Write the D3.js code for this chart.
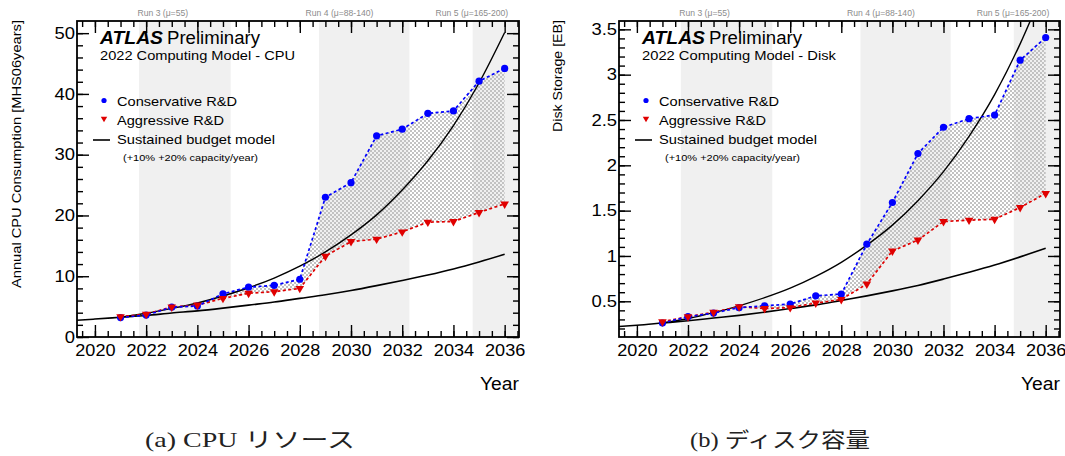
<!DOCTYPE html>
<html>
<head>
<meta charset="utf-8">
<script src="https://cdn.jsdelivr.net/npm/d3@7"></script>
<style>
  body { margin: 0; background: #fff; }
  svg { display: block; }
  text { font-family: "Liberation Sans", Arial, Helvetica, sans-serif; }
</style>
</head>
<body>
<svg id="chart" width="1065" height="456"></svg>
<script>
// ---- data ----
const years = [2021, 2022, 2023, 2024, 2025, 2026, 2027, 2028, 2029, 2030, 2031, 2032, 2033, 2034, 2035, 2036];

const cpuConservative = [3.2, 3.6, 4.9, 5.1, 7.1, 8.2, 8.5, 9.5, 23.0, 25.4, 33.1, 34.2, 36.8, 37.2, 42.1, 44.2];
const cpuAggressive   = [3.35, 3.75, 4.95, 5.25, 6.35, 7.2, 7.45, 8.0, 13.3, 15.7, 16.1, 17.3, 18.9, 19.0, 20.5, 21.9];

const diskConservative = [0.26, 0.33, 0.37, 0.43, 0.45, 0.47, 0.56, 0.58, 1.13, 1.59, 2.13, 2.42, 2.515, 2.555, 3.16, 3.41];
const diskAggressive   = [0.275, 0.33, 0.38, 0.44, 0.42, 0.43, 0.48, 0.52, 0.69, 1.055, 1.175, 1.38, 1.395, 1.405, 1.535, 1.69];

// sustained budget model, flat-budget growth of +10%/year and +20%/year
const budgetYearsLow  = [2019.3, 2020, 2021, 2022, 2023, 2024, 2025, 2026, 2027, 2028, 2029, 2030, 2031, 2032, 2033, 2034, 2035, 2036];
const cpuBudgetLow    = [2.75, 2.95, 3.25, 3.55, 3.95, 4.3, 4.75, 5.25, 5.75, 6.35, 6.95, 7.65, 8.45, 9.3, 10.2, 11.2, 12.35, 13.6];
const diskBudgetLow   = [0.222, 0.235, 0.26, 0.285, 0.315, 0.345, 0.38, 0.42, 0.46, 0.51, 0.56, 0.615, 0.675, 0.745, 0.82, 0.9, 0.99, 1.085];
const budgetYearsHigh = years;
const cpuBudgetHigh   = [3.25, 3.9, 4.7, 5.6, 6.75, 8.1, 9.7, 11.65, 14.0, 16.8, 20.1, 24.2, 29.0, 34.8, 41.8, 50.1];
const diskBudgetHigh  = [0.26, 0.31, 0.375, 0.45, 0.54, 0.645, 0.775, 0.93, 1.12, 1.34, 1.61, 1.93, 2.32, 2.78, 3.34, 4.0];

// LHC run periods
const runLabels     = ["Run 3 (\u03bc=55)", "Run 4 (\u03bc=88-140)", "Run 5 (\u03bc=165-200)"];
const runStarts     = [2021.72, 2028.75, 2034.75];
const runEnds       = [2025.3, 2032.28, 2036.6];
const runLabelYears = [2022.65, 2029.55, 2034.72];

const yearRange   = [2019.3, 2036.56];
const yearTicks   = [2020, 2022, 2024, 2026, 2028, 2030, 2032, 2034, 2036];
const cpuRange    = [0, 52];
const cpuTicks    = [0, 10, 20, 30, 40, 50];
const diskRange   = [0.106, 3.592];
const diskTicks   = [0.5, 1, 1.5, 2, 2.5, 3, 3.5];

const legendLabels = ["Conservative R&D", "Aggressive R&D", "Sustained budget model"];
const budgetNote   = "(+10% +20% capacity/year)";
const cpuTitle     = "2022 Computing Model - CPU";
const diskTitle    = "2022 Computing Model - Disk";
const cpuYLabel    = "Annual CPU Consumption  [MHS06years]";
const diskYLabel   = "Disk Storage [EB]";
const xLabel       = "Year";
const captions     = ["(a) CPU \u30ea\u30bd\u30fc\u30b9", "(b) \u30c7\u30a3\u30b9\u30af\u5bb9\u91cf"];

// ---- drawing ----
const svg = d3.select("#chart");
const BLUE = "#0000ff", RED = "#e00000";

// checkerboard hatch used between the two R&D scenarios
const defs = svg.append("defs");
const pat = defs.append("pattern").attr("id", "checker")
  .attr("patternUnits", "userSpaceOnUse").attr("width", 4).attr("height", 4);
pat.append("rect").attr("x", 0).attr("y", 0).attr("width", 2).attr("height", 2).attr("fill", "#c2c2c2");
pat.append("rect").attr("x", 2).attr("y", 2).attr("width", 2).attr("height", 2).attr("fill", "#c2c2c2");

function fitText(sel, w) {
  sel.attr("textLength", w).attr("lengthAdjust", "spacingAndGlyphs");
}
function widen(sel, k) {
  sel.each(function () {
    const w = this.getComputedTextLength();
    d3.select(this).attr("textLength", w * k).attr("lengthAdjust", "spacingAndGlyphs");
  });
}

const panels = [
  { id: "cpu", x0: 77, x1: 519, yRange: cpuRange, yTicks: cpuTicks, yMinor: 2,
    cons: cpuConservative, aggr: cpuAggressive, low: cpuBudgetLow, high: cpuBudgetHigh,
    title: cpuTitle, yLabel: cpuYLabel, yLabelX: 21, yLabelLen: 268, titleLen: 195,
    caption: captions[0], captionX: 250, captionLen: 210 },
  { id: "disk", x0: 619, x1: 1060, yRange: diskRange, yTicks: diskTicks, yMinor: 0.1,
    cons: diskConservative, aggr: diskAggressive, low: diskBudgetLow, high: diskBudgetHigh,
    title: diskTitle, yLabel: diskYLabel, yLabelX: 562, yLabelLen: 112, titleLen: 194,
    caption: captions[1], captionX: 780, captionLen: 180 }
];

const Y0 = 337, Y1 = 21;

panels.forEach(p => {
  const x = d3.scaleLinear().domain(yearRange).range([p.x0, p.x1]);
  const y = d3.scaleLinear().domain(p.yRange).range([Y0, Y1]);
  const g = svg.append("g").attr("class", p.id);

  const clipId = "clip-" + p.id;
  defs.append("clipPath").attr("id", clipId).append("rect")
    .attr("x", p.x0).attr("y", Y1).attr("width", p.x1 - p.x0).attr("height", Y0 - Y1);

  const plot = g.append("g").attr("clip-path", `url(#${clipId})`);

  // run period bands
  plot.selectAll("rect.band").data(runStarts).join("rect").attr("class", "band")
    .attr("x", (d) => x(d)).attr("y", Y1)
    .attr("width", (d, i) => x(runEnds[i]) - x(d)).attr("height", Y0 - Y1)
    .attr("fill", "#f0f0f0");

  // run labels above the frame
  g.selectAll("text.run").data(runLabels).join("text").attr("class", "run")
    .attr("x", (d, i) => x(runLabelYears[i])).attr("y", 16)
    .attr("text-anchor", "middle").attr("font-size", 8.6).attr("fill", "#8c8c8c")
    .text(d => d);

  // hatched band between scenarios
  const ptsC = years.map((yr, i) => [x(yr), y(p.cons[i])]);
  const ptsA = years.map((yr, i) => [x(yr), y(p.aggr[i])]);
  plot.append("path")
    .attr("d", d3.line()(ptsC.concat(ptsA.slice().reverse())) + "Z")
    .attr("fill", "url(#checker)").attr("stroke", "none");

  // sustained budget curves
  const curve = d3.line().x(d => x(d[0])).y(d => y(d[1])).curve(d3.curveMonotoneX);
  plot.append("path").attr("d", curve(budgetYearsLow.map((yr, i) => [yr, p.low[i]])))
    .attr("fill", "none").attr("stroke", "#000").attr("stroke-width", 1.6);
  plot.append("path").attr("d", curve(budgetYearsHigh.map((yr, i) => [yr, p.high[i]])))
    .attr("fill", "none").attr("stroke", "#000").attr("stroke-width", 1.4);

  // scenario lines
  const lin = d3.line();
  plot.append("path").attr("d", lin(ptsA)).attr("fill", "none")
    .attr("stroke", RED).attr("stroke-width", 1.7).attr("stroke-dasharray", "3,2.5");
  plot.append("path").attr("d", lin(ptsC)).attr("fill", "none")
    .attr("stroke", BLUE).attr("stroke-width", 1.7).attr("stroke-dasharray", "3,2.5");

  // markers
  plot.selectAll("circle.cons").data(ptsC).join("circle").attr("class", "cons")
    .attr("cx", d => d[0]).attr("cy", d => d[1]).attr("r", 3.6).attr("fill", BLUE);
  const tri = d3.symbol().type(d3.symbolTriangle).size(32);
  plot.selectAll("path.aggr").data(ptsA).join("path").attr("class", "aggr")
    .attr("d", tri).attr("transform", d => `translate(${d[0]},${d[1]}) rotate(180)`)
    .attr("fill", RED);

  // axes: ticks drawn inward on all four sides
  const minorX = d3.range(2019.5, 2036.6, 0.5);
  const minorY = d3.range(Math.ceil(p.yRange[0] / p.yMinor) * p.yMinor, p.yRange[1], p.yMinor)
    .map(v => +v.toFixed(3));
  const fmt = v => String(+v.toFixed(1));

  const styleAxis = sel => {
    sel.select(".domain").remove();
    sel.selectAll("line").attr("stroke", "#000").attr("stroke-width", 1.4);
  };

  g.append("g").attr("transform", `translate(0,${Y0})`)
    .call(d3.axisBottom(x).tickValues(minorX).tickSize(-6).tickFormat(""))
    .call(styleAxis).selectAll("text").remove();
  const bx = g.append("g").attr("transform", `translate(0,${Y0})`)
    .call(d3.axisBottom(x).tickValues(yearTicks).tickSize(-12).tickPadding(8).tickFormat(d3.format("d")))
    .call(styleAxis);
  bx.selectAll("text").attr("font-size", 16).attr("fill", "#000").call(widen, 1.13);

  g.append("g").attr("transform", `translate(0,${Y1})`)
    .call(d3.axisTop(x).tickValues(minorX).tickSize(-6).tickFormat(""))
    .call(styleAxis).selectAll("text").remove();
  g.append("g").attr("transform", `translate(0,${Y1})`)
    .call(d3.axisTop(x).tickValues(yearTicks).tickSize(-12).tickFormat(""))
    .call(styleAxis).selectAll("text").remove();

  g.append("g").attr("transform", `translate(${p.x0},0)`)
    .call(d3.axisLeft(y).tickValues(minorY).tickSize(-6).tickFormat(""))
    .call(styleAxis).selectAll("text").remove();
  const ly = g.append("g").attr("transform", `translate(${p.x0},0)`)
    .call(d3.axisLeft(y).tickValues(p.yTicks).tickSize(-12).tickPadding(2).tickFormat(fmt))
    .call(styleAxis);
  ly.selectAll("text").attr("font-size", 16).attr("fill", "#000").call(widen, 1.15);

  g.append("g").attr("transform", `translate(${p.x1},0)`)
    .call(d3.axisRight(y).tickValues(minorY).tickSize(-6).tickFormat(""))
    .call(styleAxis).selectAll("text").remove();
  g.append("g").attr("transform", `translate(${p.x1},0)`)
    .call(d3.axisRight(y).tickValues(p.yTicks).tickSize(-12).tickFormat(""))
    .call(styleAxis).selectAll("text").remove();

  // frame
  g.append("rect").attr("x", p.x0).attr("y", Y1)
    .attr("width", p.x1 - p.x0).attr("height", Y0 - Y1)
    .attr("fill", "none").attr("stroke", "#000").attr("stroke-width", 1.8);

  // axis titles
  g.append("text").attr("x", p.x1).attr("y", 389.5).attr("text-anchor", "end")
    .attr("font-size", 17.5).text(xLabel).call(fitText, 39);
  g.append("text").attr("transform", `translate(${p.yLabelX},20) rotate(-90)`)
    .attr("text-anchor", "end").attr("font-size", 13).text(p.yLabel).call(fitText, p.yLabelLen);

  // ATLAS label and title
  const lx = p.x0 + 23;
  g.append("text").attr("x", lx).attr("y", 44).attr("font-size", 17.5)
    .attr("font-weight", "bold").attr("font-style", "italic").text("ATLAS").call(fitText, 63);
  g.append("text").attr("x", lx + 67).attr("y", 44).attr("font-size", 17.5)
    .text("Preliminary").call(fitText, 93);
  g.append("text").attr("x", lx).attr("y", 59.5).attr("font-size", 12.5)
    .text(p.title).call(fitText, p.titleLen);

  // legend
  const tx = p.x0 + 40, mx = p.x0 + 27;
  g.append("circle").attr("cx", mx).attr("cy", 100.5).attr("r", 2.6).attr("fill", BLUE);
  g.append("path").attr("d", d3.symbol().type(d3.symbolTriangle).size(18))
    .attr("transform", `translate(${mx},118.5) rotate(180)`).attr("fill", RED);
  g.append("line").attr("x1", p.x0 + 16).attr("x2", p.x0 + 33).attr("y1", 140).attr("y2", 140)
    .attr("stroke", "#000").attr("stroke-width", 1.6);
  const legendY = [106, 124.5, 144];
  const legendW = [120, 107, 158];
  legendLabels.forEach((t, i) => {
    g.append("text").attr("x", tx).attr("y", legendY[i]).attr("font-size", 13)
      .text(t).call(fitText, legendW[i]);
  });
  g.append("text").attr("x", p.x0 + 46).attr("y", 160.5).attr("font-size", 9.5)
    .text(budgetNote).call(fitText, 135);

  // sub-figure caption
  svg.append("text").attr("x", p.captionX).attr("y", 447).attr("text-anchor", "middle")
    .style("font-family", "'Liberation Serif', 'Noto Sans CJK JP', serif").attr("font-size", 21)
    .attr("fill", "#222").text(p.caption).call(fitText, p.captionLen);
});
</script>
</body>
</html>
